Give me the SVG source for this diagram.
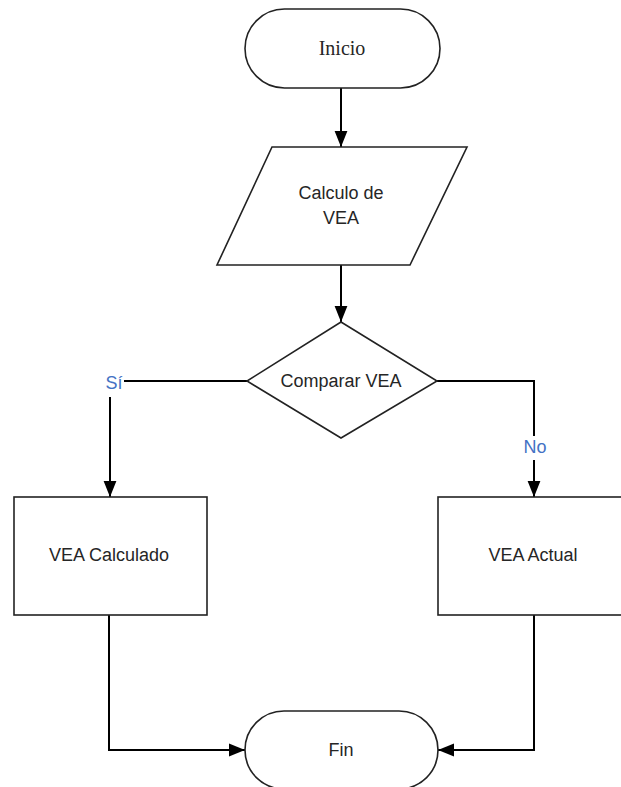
<svg xmlns="http://www.w3.org/2000/svg" width="621" height="787" viewBox="0 0 621 787">
<defs>
<marker id="arr" markerUnits="userSpaceOnUse" markerWidth="16" markerHeight="20" refX="20" refY="8" viewBox="0 0 20 16" orient="auto">
<path d="M0,0 L20,8 L0,16 Z" fill="#000"/>
</marker>
</defs>
<style>
.shape{fill:#fff;stroke:#222;stroke-width:1.6}
.conn{fill:none;stroke:#000;stroke-width:2}
.t{font-family:"Liberation Sans",Arial,sans-serif;font-size:18px;fill:#262626;text-anchor:middle;dominant-baseline:central}
.serif{font-family:"Liberation Serif","Times New Roman",serif;font-size:20px}
.lbl{font-family:"Liberation Sans",Arial,sans-serif;font-size:18px;fill:#4472C4;text-anchor:middle;dominant-baseline:central}
</style>
<rect width="621" height="787" fill="#fff"/>
<g id="connectors">
<path class="conn" d="M341,88 V147" marker-end="url(#arr)"/>
<path class="conn" d="M341,265 V322" marker-end="url(#arr)"/>
<path class="conn" d="M247,381 H110 V497" marker-end="url(#arr)"/>
<path class="conn" d="M437,381 H534 V497" marker-end="url(#arr)"/>
<path class="conn" d="M109,615 V750 H245" marker-end="url(#arr)"/>
<path class="conn" d="M534,615 V750 H438" marker-end="url(#arr)"/>
<rect x="103" y="371" width="21" height="26" fill="#fff"/>
<text class="lbl" x="114" y="383">Sí</text>
<rect x="520" y="436" width="30" height="24" fill="#fff"/>
<text class="lbl" x="535" y="447">No</text>
</g>
<g id="inicio">
<rect class="shape" x="245" y="9" width="195" height="79" rx="39.5"/>
<text class="t serif" x="342" y="48">Inicio</text>
</g>
<g id="calculo">
<polygon class="shape" points="272,147 467,147 410,265 217,265"/>
<text class="t" x="341" y="193">Calculo de</text>
<text class="t" x="341" y="218">VEA</text>
</g>
<g id="comparar">
<polygon class="shape" points="341,322 437,381 341,438 247,381"/>
<text class="t" x="341" y="381">Comparar VEA</text>
</g>
<g id="calculado">
<rect class="shape" x="14" y="497" width="193" height="118"/>
<text class="t" x="109" y="555">VEA Calculado</text>
</g>
<g id="actual">
<rect class="shape" x="438" y="497" width="192" height="118"/>
<text class="t" x="533" y="555">VEA Actual</text>
</g>
<g id="fin">
<rect class="shape" x="245" y="711" width="193" height="78" rx="39"/>
<text class="t" x="341" y="750">Fin</text>
</g>
</svg>
